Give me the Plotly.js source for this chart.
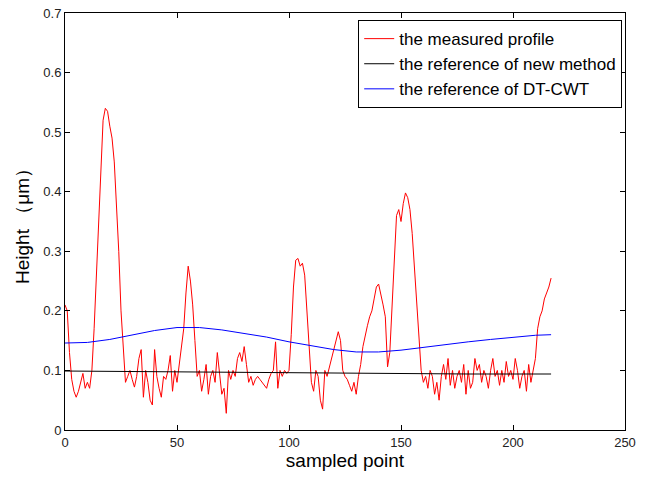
<!DOCTYPE html>
<html>
<head>
<meta charset="utf-8">
<script src="https://cdn.plot.ly/plotly-3.0.1.min.js"></script>
<style>html,body{margin:0;padding:0;background:#fff;}#chart{width:648px;height:477px;}</style>
</head>
<body>
<div id="chart"></div>
<script>
// Measured profile (sample index 0..217)
const measured = [
0.21,0.2,0.13,0.085,0.065,0.055,0.065,0.08,0.095,0.07,
0.08,0.07,0.1,0.17,0.26,0.36,0.45,0.52,0.54,0.535,
0.51,0.49,0.45,0.38,0.3,0.2,0.14,0.08,0.09,0.1,
0.085,0.072,0.09,0.12,0.135,0.055,0.1,0.08,0.05,0.042,
0.135,0.09,0.07,0.055,0.09,0.085,0.1,0.125,0.065,0.1,
0.08,0.11,0.14,0.17,0.23,0.275,0.25,0.21,0.15,0.09,
0.1,0.065,0.085,0.11,0.06,0.09,0.1,0.08,0.13,0.09,
0.06,0.07,0.028,0.1,0.085,0.1,0.09,0.12,0.13,0.115,
0.14,0.11,0.08,0.09,0.075,0.085,0.09,0.085,0.08,0.075,
0.07,0.085,0.095,0.1,0.148,0.07,0.1,0.09,0.1,0.095,
0.1,0.16,0.24,0.285,0.288,0.275,0.28,0.26,0.2,0.14,
0.08,0.065,0.1,0.09,0.05,0.035,0.1,0.09,0.105,0.12,
0.13,0.15,0.165,0.15,0.1,0.09,0.085,0.075,0.065,0.08,
0.06,0.09,0.11,0.14,0.16,0.175,0.19,0.2,0.22,0.24,
0.245,0.23,0.21,0.19,0.106,0.13,0.2,0.28,0.36,0.37,
0.35,0.38,0.398,0.39,0.37,0.33,0.27,0.2,0.14,0.1,
0.08,0.09,0.07,0.1,0.09,0.06,0.08,0.05,0.09,0.11,
0.085,0.12,0.075,0.1,0.07,0.09,0.1,0.08,0.11,0.06,
0.1,0.07,0.08,0.12,0.1,0.11,0.08,0.1,0.09,0.07,
0.1,0.12,0.09,0.1,0.075,0.1,0.08,0.115,0.09,0.1,
0.085,0.12,0.1,0.07,0.09,0.1,0.065,0.11,0.08,0.1,
0.12,0.17,0.19,0.2,0.22,0.23,0.24,0.255
];
const measuredX = measured.map((_, i) => i);

// Reference of new method
const newRefX = [0, 30, 60, 90, 120, 150, 180, 217];
const newRefY = [0.099, 0.098, 0.098, 0.097, 0.095, 0.094, 0.094, 0.094];

// Reference of DT-CWT
const dtcwtX = [0,10,20,30,40,50,60,70,80,90,100,110,120,130,140,150,160,170,180,190,200,210,217];
const dtcwtY = [0.146,0.147,0.152,0.16,0.167,0.172,0.172,0.168,0.162,0.156,0.148,0.141,0.135,0.131,0.131,0.134,0.139,0.143,0.148,0.152,0.156,0.159,0.16];

const names = ['the measured profile', 'the reference of new method', 'the reference of DT-CWT'];
const xTicks = [0, 50, 100, 150, 200, 250];
const yTicks = [0, 0.1, 0.2, 0.3, 0.4, 0.5, 0.6, 0.7];

const traces = [
  {x: measuredX, y: measured, mode: 'lines', name: names[0], line: {color: '#ff0000', width: 1}},
  {x: newRefX, y: newRefY, mode: 'lines', name: names[1], line: {color: '#000000', width: 1}},
  {x: dtcwtX, y: dtcwtY, mode: 'lines', name: names[2], line: {color: '#0000ff', width: 1}}
];

const FONT = 'Liberation Sans, Arial, sans-serif';
const axisCommon = {
  showgrid: false, zeroline: false, showline: true, linecolor: '#000', linewidth: 1,
  mirror: 'ticks', ticks: 'inside', ticklen: 5, tickcolor: '#000',
  tickfont: {family: FONT, size: 13, color: '#222'}
};

const layout = {
  width: 648, height: 477,
  margin: {l: 65, r: 23, t: 13, b: 47},
  paper_bgcolor: '#fff', plot_bgcolor: '#fff',
  showlegend: true,
  legend: {
    x: 0.995, xanchor: 'right', y: 0.983, yanchor: 'top',
    bordercolor: '#000', borderwidth: 1, bgcolor: '#fff',
    font: {family: FONT, size: 17, color: '#000'}
  },
  xaxis: Object.assign({}, axisCommon, {
    range: [0, 250], tickvals: xTicks, ticktext: xTicks.map(String),
    title: {text: 'sampled point', font: {family: FONT, size: 19, color: '#000'}, standoff: 5}
  }),
  yaxis: Object.assign({}, axisCommon, {
    range: [0, 0.7], tickvals: yTicks, ticktext: yTicks.map(String),
    title: {text: 'Height （μm）', font: {family: FONT, size: 19, color: '#000'}, standoff: 8}
  })
};

Plotly.newPlot('chart', traces, layout, {displayModeBar: false, staticPlot: true});
</script>
</body>
</html>
